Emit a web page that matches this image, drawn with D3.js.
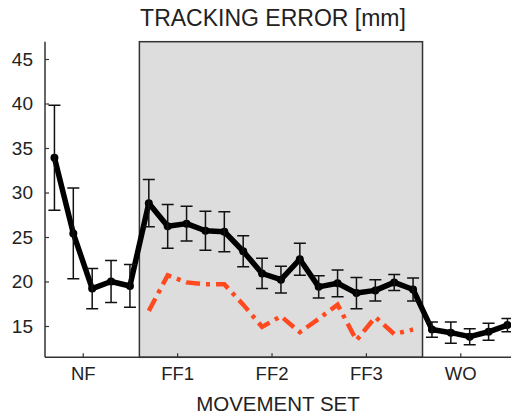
<!DOCTYPE html>
<html><head><meta charset="utf-8">
<script src="https://cdn.jsdelivr.net/npm/d3@7"></script>
<style>body{margin:0;background:#fff;}svg{display:block;font-family:"Liberation Sans",Arial,sans-serif;}</style>
</head><body><svg id="c" width="511" height="416"></svg>
<script>
const trials = [1,2,3,4,5,6,7,8,9,10,11,12,13,14,15,16,17,18,19,20,21,22,23,24,25];
const meanError = [33.9,25.4,19.2,20.0,19.5,28.8,26.2,26.5,25.7,25.6,23.4,20.9,20.2,22.5,19.4,19.8,18.7,19.0,19.9,19.1,14.6,14.25,13.8,14.35,15.1];
const semError = [5.9,5.1,2.25,2.35,2.4,2.65,2.45,1.95,2.2,2.25,1.75,1.7,1.5,1.8,1.25,1.5,1.75,1.2,0.9,1.3,0.85,1.2,0.9,0.95,0.75];
const redTrials = [6,7,8,9,10,11,12,13,14,15,16,17,18,19,20];
const redError = [16.7,20.7,19.9,19.7,19.7,17.4,14.9,16.1,14.3,15.8,17.4,13.4,16.0,14.1,14.6];
const setLabels = ["NF","FF1","FF2","FF3","WO"];
const setTickPos = [2.5,7.5,12.5,17.5,22.5];
const fieldBlock = [5.5,20.5];
const yTicks = [15,20,25,30,35,40,45];

const svg = d3.select("#c");
const x = d3.scaleLinear().domain([0.5,25.5]).range([45,516.9]);
const y = d3.scaleLinear().domain([15,45]).range([326,59]);
const yBot = 357.3, yTop = 41.7;

// force-field block
svg.append("rect").attr("x",x(fieldBlock[0])).attr("y",yTop)
  .attr("width",x(fieldBlock[1])-x(fieldBlock[0])).attr("height",yBot-yTop)
  .attr("fill","#dddddd").attr("stroke","#333").attr("stroke-width",1.5);

// axes
const yAxis = d3.axisLeft(y).tickValues(yTicks).tickSizeInner(-4).tickSizeOuter(0).tickPadding(12);
const gy = svg.append("g").attr("transform","translate(45,0)").call(yAxis);
gy.select(".domain").attr("d",`M0,${yTop}V${yBot}`).attr("stroke","#333").attr("stroke-width",1.5);
gy.selectAll(".tick line").attr("stroke","#333").attr("stroke-width",1.2);
gy.selectAll(".tick text").attr("font-size",19).attr("fill","#222").attr("font-family","Liberation Sans, Arial, sans-serif");

const xAxis = d3.axisBottom(x).tickValues(setTickPos).tickFormat((d,i)=>setLabels[i]).tickSizeInner(-4).tickSizeOuter(0).tickPadding(10);
const gx = svg.append("g").attr("transform",`translate(0,${yBot})`).call(xAxis);
gx.select(".domain").attr("d",`M45,0H511`).attr("stroke","#333").attr("stroke-width",1.5);
gx.selectAll(".tick line").attr("stroke","#333").attr("stroke-width",1.2);
gx.selectAll(".tick text").attr("font-size",18.5).attr("fill","#222").attr("font-family","Liberation Sans, Arial, sans-serif");

// red dash-dot line
svg.append("path").datum(redTrials.map((t,i)=>[t,redError[i]]))
  .attr("d",d3.line().x(d=>x(d[0])).y(d=>y(d[1])))
  .attr("fill","none").attr("stroke","#ff4a20").attr("stroke-width",4.5)
  .attr("stroke-dasharray","14,6,4,6");

// black line
const pts = trials.map((t,i)=>({t,m:meanError[i],e:semError[i]}));
svg.append("path").datum(pts)
  .attr("d",d3.line().x(d=>x(d.t)).y(d=>y(d.m)))
  .attr("fill","none").attr("stroke","#000").attr("stroke-width",5.5).attr("stroke-linejoin","round");
svg.selectAll("circle.m").data(pts).join("circle").attr("class","m")
  .attr("cx",d=>x(d.t)).attr("cy",d=>y(d.m)).attr("r",4).attr("fill","#000");

// error bars
const eb = svg.append("g").attr("stroke","#111").attr("stroke-width",1.5).attr("fill","none");
pts.forEach(d=>{
  const cx = x(d.t), y1 = y(d.m+d.e), y2 = y(d.m-d.e);
  eb.append("path").attr("d",`M${cx},${y1}V${y2}M${cx-6},${y1}H${cx+6}M${cx-6},${y2}H${cx+6}`);
});

// titles
svg.append("text").attr("x",273).attr("y",26).attr("text-anchor","middle")
  .attr("font-size",23).attr("fill","#222").text("TRACKING ERROR [mm]");
svg.append("text").attr("x",278).attr("y",411).attr("text-anchor","middle")
  .attr("font-size",20.5).attr("fill","#222").text("MOVEMENT SET");
</script></body></html>
